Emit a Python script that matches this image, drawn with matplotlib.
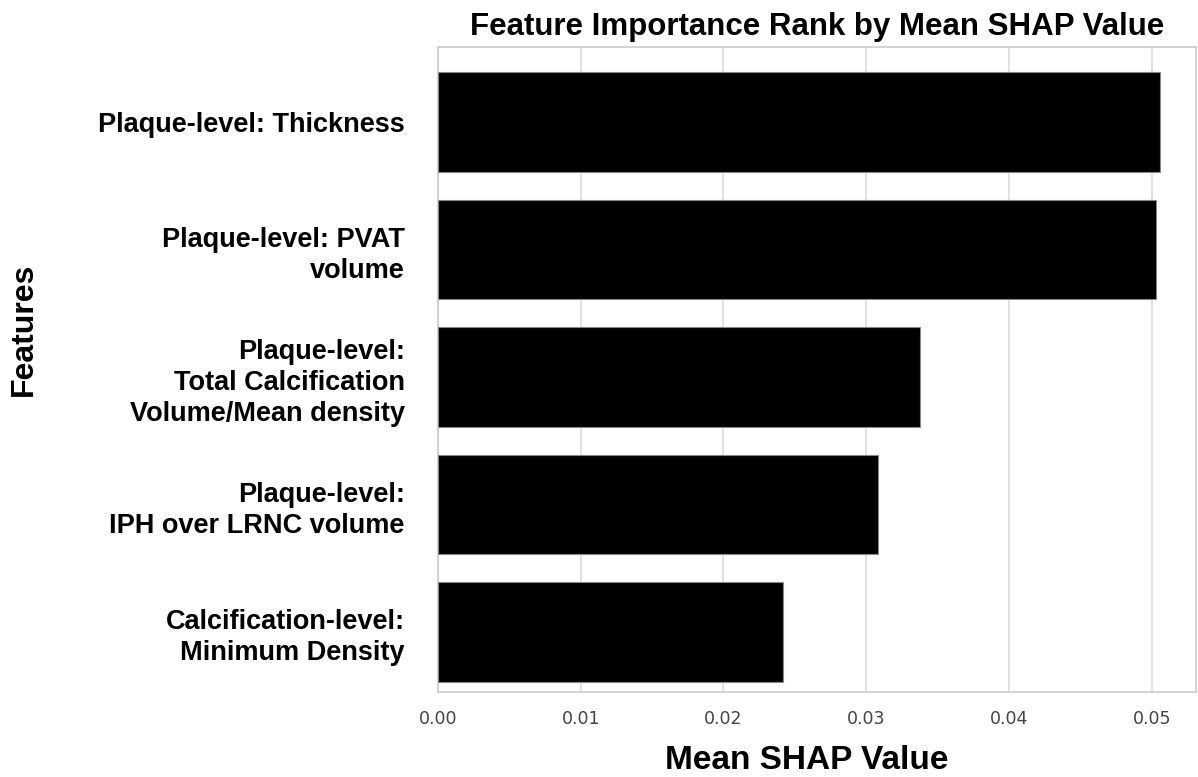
import matplotlib
matplotlib.use("Agg")
import matplotlib.pyplot as plt

features = [
    "Plaque-level: Thickness",
    "Plaque-level: PVAT\nvolume",
    "Plaque-level:\nTotal Calcification\nVolume/Mean density",
    "Plaque-level:\nIPH over LRNC volume",
    "Calcification-level:\nMinimum Density",
]
values = [0.0506, 0.0503, 0.0338, 0.0308, 0.0242]
xticks = [0.00, 0.01, 0.02, 0.03, 0.04, 0.05]

fig = plt.figure(figsize=(11.98, 7.77), dpi=100)
ax = fig.add_axes([438/1198, 1-692/777, (1196-438)/1198, (692-47)/777])

pos = list(range(len(features)))
ax.barh(pos, values, height=0.78, color="black", edgecolor="#888888", linewidth=0.8, zorder=3)
ax.set_ylim(4.47, -0.59)
ax.set_xlim(0, 0.0531)
ax.set_xticks(xticks)
ax.set_xticklabels([f"{t:.2f}" for t in xticks], fontsize=12.5, color="#444444", family="DejaVu Sans")
ax.set_yticks(pos)
ax.set_yticklabels(features, fontsize=19.5, fontweight="bold", family="Liberation Sans",
                   color="black", linespacing=1.25)
ax.tick_params(axis="y", length=0, pad=24)
ax.tick_params(axis="x", length=0, pad=13)
ax.grid(axis="x", color="#dddddd", linewidth=1.2, zorder=0)
ax.grid(axis="y", visible=False)
for s in ax.spines.values():
    s.set_color("#cccccc")
    s.set_linewidth(1.2)

ax.set_title("Feature Importance Rank by Mean SHAP Value", fontsize=22.5, fontweight="bold",
             family="Liberation Sans", pad=9)
ax.set_xlabel("Mean SHAP Value", fontsize=24, fontweight="bold", family="Liberation Sans")
ax.xaxis.set_label_coords(0.487, -0.082)
ax.set_ylabel("Features", fontsize=23, fontweight="bold", family="Liberation Sans")
ax.yaxis.set_label_coords(-0.526, 0.563)

fig.savefig("out.png", dpi=100)
